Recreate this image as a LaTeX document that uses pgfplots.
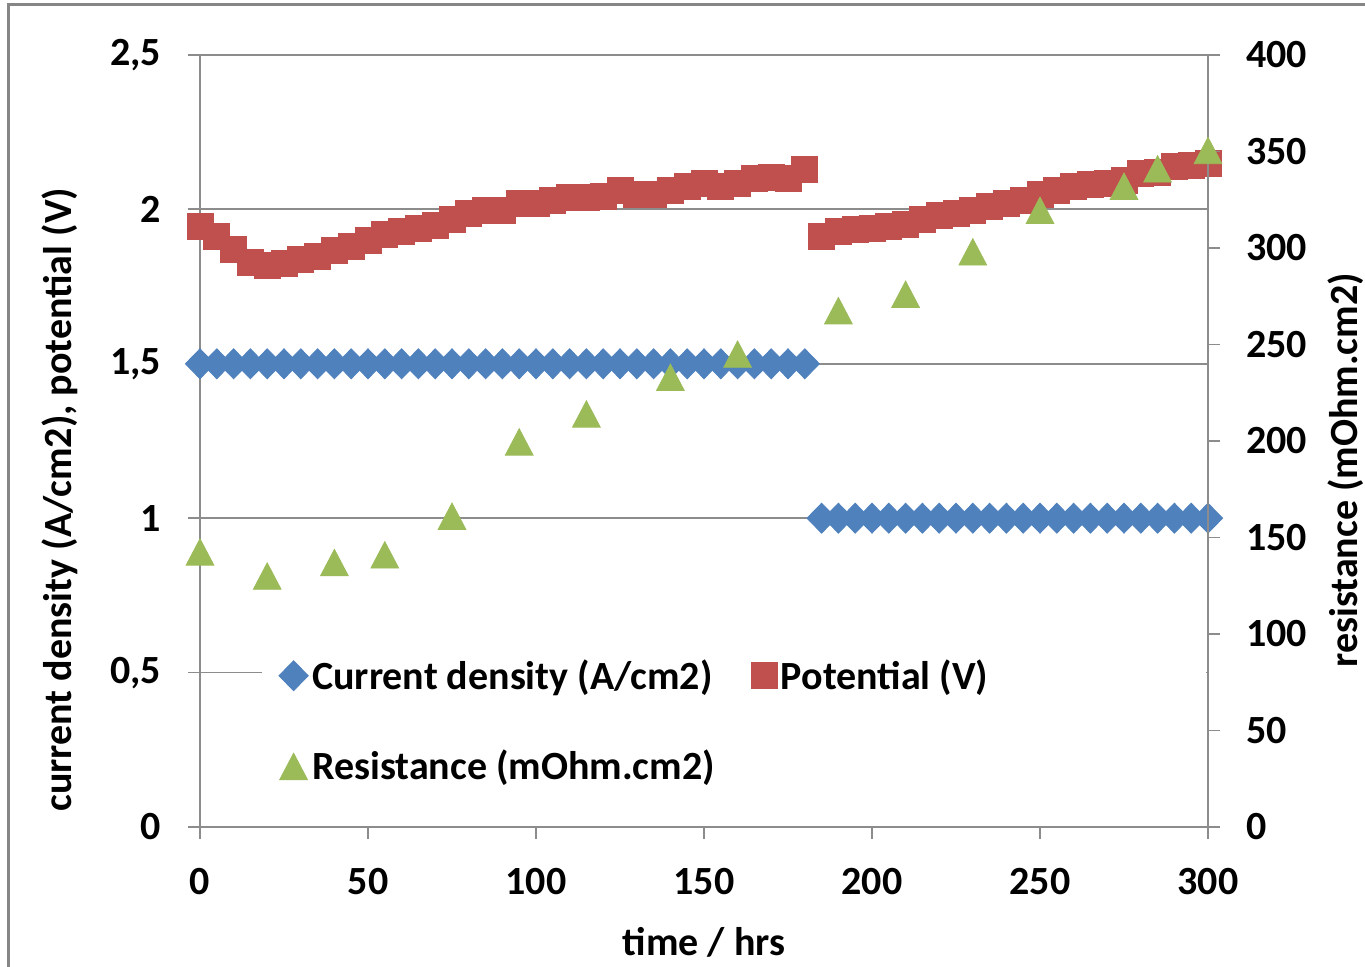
\documentclass[border=0pt]{standalone}
\usepackage{fontspec}
\setmainfont{Carlito}
\usepackage{pgfplots}
\pgfplotsset{compat=1.18}

\definecolor{cdblue}{RGB}{79,129,189}
\definecolor{potred}{RGB}{192,80,77}
\definecolor{resgreen}{RGB}{155,187,89}
\definecolor{gridgray}{RGB}{140,140,140}
\definecolor{framegray}{RGB}{134,134,134}

\pgfplotsset{
  chartbase/.style={
    at={(0,0)}, anchor=south west, scale only axis,
    width=504pt, height=386pt,
    xmin=0, xmax=300,
    tick align=outside,
    major tick length=6pt,
    tick style={gridgray, line width=0.9pt},
    axis line style={gridgray, line width=0.9pt},
    tick label style={font=\fontsize{20}{24}\selectfont\bfseries},
    label style={font=\fontsize{20}{24}\selectfont\bfseries},
    /pgf/number format/assume math mode=true,
    /pgf/number format/use comma,
    /pgf/number format/1000 sep={},
    clip=false,
  },
  cdmark/.style={only marks, mark=diamond*, mark size=7.5pt, color=cdblue,
    mark options={xscale=1.3}},
  potmark/.style={only marks, mark=square*, mark size=6.5pt, color=potred},
  resmark/.style={only marks, mark=triangle*, mark size=8pt, color=resgreen,
    mark options={yshift=-2.2pt, yscale=1.1}},
}

\begin{document}
\begin{tikzpicture}[font=\fontsize{20}{24}\selectfont\bfseries]
\useasboundingbox (-100pt,-70pt) rectangle (582.5pt,413.5pt);
\draw[framegray, line width=1.5pt] (-95.5pt,-90pt) -- (-95.5pt,411pt) -- (600pt,411pt);

% left axis: current density and potential
\begin{axis}[chartbase,
  axis x line*=bottom, axis y line*=left,
  ymin=0, ymax=2.5,
  xtick={0,50,...,300}, ytick={0,0.5,...,2.5},
  ymajorgrids, major grid style={gridgray, line width=0.9pt},
  xticklabel style={yshift=-11pt},
  yticklabel style={xshift=-10pt},
  xlabel={time / hrs},
  ylabel={current density (A/cm2), potential (V)},
  xlabel style={at={(axis description cs:0.5,-0.149)}, anchor=center},
  ylabel style={at={(axis description cs:-0.139,0.424)}, anchor=center},
]
\fill[white] (axis cs:18.5,0.08) rectangle (axis cs:299.3,0.65);
\addplot[cdmark] coordinates {
 (0,1.5) (5,1.5) (10,1.5) (15,1.5) (20,1.5) (25,1.5) (30,1.5) (35,1.5)
 (40,1.5) (45,1.5) (50,1.5) (55,1.5) (60,1.5) (65,1.5) (70,1.5) (75,1.5)
 (80,1.5) (85,1.5) (90,1.5) (95,1.5) (100,1.5) (105,1.5) (110,1.5) (115,1.5)
 (120,1.5) (125,1.5) (130,1.5) (135,1.5) (140,1.5) (145,1.5) (150,1.5)
 (155,1.5) (160,1.5) (165,1.5) (170,1.5) (175,1.5) (180,1.5)
 (185,1) (190,1) (195,1) (200,1) (205,1) (210,1) (215,1) (220,1)
 (225,1) (230,1) (235,1) (240,1) (245,1) (250,1) (255,1) (260,1)
 (265,1) (270,1) (275,1) (280,1) (285,1) (290,1) (295,1) (300,1)
};
\addplot[potmark] coordinates {
 (0,1.946) (5,1.911) (10,1.870) (15,1.827) (20,1.818) (25,1.826)
 (30,1.837) (35,1.848) (40,1.868) (45,1.879) (50,1.900) (55,1.920)
 (60,1.928) (65,1.938) (70,1.948) (75,1.967) (80,1.987) (85,1.996)
 (90,1.998) (95,2.020) (100,2.020) (105,2.030) (110,2.040) (115,2.040)
 (120,2.041) (125,2.060) (130,2.047) (135,2.047) (140,2.063) (145,2.074)
 (150,2.084) (155,2.074) (160,2.084) (165,2.100) (170,2.105) (175,2.100)
 (180,2.128)
 (185,1.911) (190,1.928) (195,1.935) (200,1.938) (205,1.944) (210,1.950)
 (215,1.966) (220,1.982) (225,1.987) (230,1.998) (235,2.009) (240,2.020)
 (245,2.030) (250,2.047) (255,2.063) (260,2.074) (265,2.080) (270,2.084)
 (275,2.095) (280,2.117) (285,2.120) (290,2.138) (295,2.143) (300,2.149)
};
\end{axis}

% right axis: resistance
\begin{axis}[chartbase,
  axis x line=none, axis y line*=right,
  ymin=0, ymax=400, ytick={0,50,...,400},
  yticklabel style={xshift=9.5pt},
  ylabel={resistance (mOhm.cm2)},
  ylabel style={at={(axis description cs:1.137,0.462)}, anchor=center},
  legend columns=2, legend cell align=left,
  legend style={at={(0.072,0.228)}, anchor=north west, draw=none, fill=none,
    font=\fontsize{20}{24}\selectfont\bfseries, row sep=25pt,
    /tikz/every even column/.append style={column sep=16pt}},
]
\addlegendimage{cdmark}
\addlegendentry{Current density (A/cm2)}
\addlegendimage{potmark}
\addlegendentry{Potential (V)}
\addplot[resmark] coordinates {
 (0,142.5) (20,130) (40,137) (55,141) (75,161) (95,199.5) (115,214)
 (140,233) (160,245) (190,267.5) (210,276) (230,298) (250,319.5)
 (275,332) (285,341) (300,350.5)
};
\addlegendentry{Resistance (mOhm.cm2)}
\end{axis}
\end{tikzpicture}
\end{document}
